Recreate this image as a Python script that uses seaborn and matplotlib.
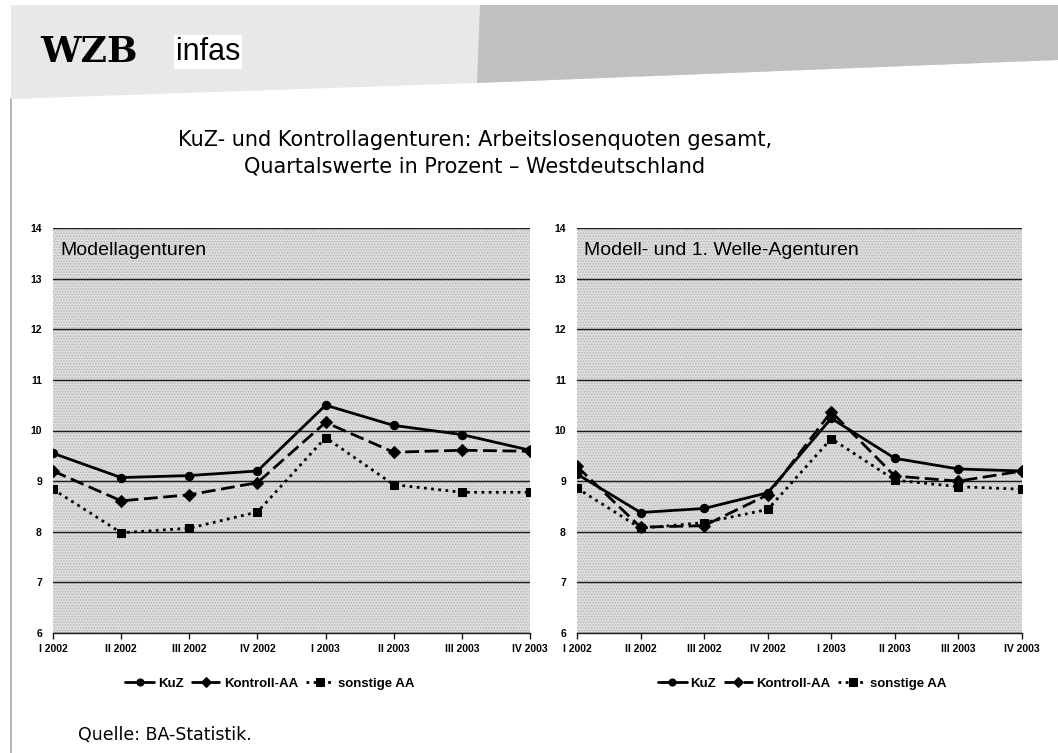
import numpy as np
import pandas as pd
import matplotlib
matplotlib.use("Agg")
import matplotlib.pyplot as plt
import seaborn as sns
from matplotlib.patches import Polygon, Rectangle

# ---------------- data ----------------
quarters = ["I 2002", "II 2002", "III 2002", "IV 2002",
            "I 2003", "II 2003", "III 2003", "IV 2003"]
series_names = ["KuZ", "Kontroll-AA", "sonstige AA"]

model_kuz = [9.55, 9.07, 9.11, 9.20, 10.50, 10.10, 9.92, 9.61]
model_kontroll = [9.20, 8.61, 8.73, 8.97, 10.16, 9.57, 9.61, 9.59]
model_sonstige = [8.84, 7.98, 8.07, 8.39, 9.86, 8.93, 8.78, 8.78]

welle_kuz = [9.14, 8.38, 8.46, 8.77, 10.24, 9.45, 9.24, 9.20]
welle_kontroll = [9.29, 8.09, 8.12, 8.73, 10.37, 9.10, 9.00, 9.20]
welle_sonstige = [8.86, 8.07, 8.18, 8.44, 9.84, 9.02, 8.89, 8.84]

panel_titles = ["Modellagenturen", "Modell- und 1. Welle-Agenturen"]
y_ticks = [6, 7, 8, 9, 10, 11, 12, 13, 14]

title_lines = ["KuZ- und Kontrollagenturen: Arbeitslosenquoten gesamt,",
               "Quartalswerte in Prozent – Westdeutschland"]
source_text = "Quelle: BA-Statistik."


def make_frame(kuz, kontroll, sonstige):
    rows = []
    for name, vals in zip(series_names, [kuz, kontroll, sonstige]):
        for i, v in enumerate(vals):
            rows.append({"x": i, "value": v, "series": name})
    return pd.DataFrame(rows)


frames = [make_frame(model_kuz, model_kontroll, model_sonstige),
          make_frame(welle_kuz, welle_kontroll, welle_sonstige)]

# ---------------- figure ----------------
sns.set_style("white")
plt.rcParams["font.family"] = ["DejaVu Sans"]
plt.rcParams["hatch.linewidth"] = 0.7
for key in ["text.color", "axes.labelcolor", "xtick.color", "ytick.color"]:
    plt.rcParams[key] = "black"

W, H = 1058, 753
fig = plt.figure(figsize=(W / 100, H / 100), dpi=100)

# background / header axes in pixel coordinates
bg = fig.add_axes([0, 0, 1, 1], zorder=-5)
bg.set_xlim(0, W)
bg.set_ylim(H, 0)
bg.axis("off")
bg.add_patch(Polygon([(11, 5), (W, 5), (W, 60), (477, 83), (11, 99)],
                     closed=True, facecolor="#e8e8e8", edgecolor="none"))
bg.add_patch(Polygon([(480, 5), (W, 5), (W, 60), (477, 83)],
                     closed=True, facecolor="#c0c0c0", edgecolor="none"))
bg.plot([11, 11], [99, H], color="#a8a8a8", lw=1.2)
bg.text(40, 52, "WZB", fontsize=26, fontweight="black",
        family=["DejaVu Serif"], va="center", ha="left", color="black")
bg.text(176, 52, "infas", fontsize=22, family=["Liberation Sans"],
        va="center", ha="left", color="black",
        bbox=dict(facecolor="white", edgecolor="none", pad=1))
bg.text(475, 140, title_lines[0], fontsize=15, ha="center", va="center", color="black")
bg.text(475, 166, title_lines[1], fontsize=15, ha="center", va="center", color="black")
bg.text(78, 735, source_text, fontsize=12.5, ha="left", va="center", color="black")

marker_map = {"KuZ": "o", "Kontroll-AA": "D", "sonstige AA": "s"}
dash_map = {"KuZ": "", "Kontroll-AA": (5, 2), "sonstige AA": (1, 1.6)}

tick_family = ["Liberation Sans", "DejaVu Sans"]

panels = [(53, 530), (577, 1022)]
legend_centers = [0.455, 0.506]
top_px, bot_px = 228, 633
for k, ((x0, x1), df) in enumerate(zip(panels, frames)):
    ax = fig.add_axes([x0 / W, 1 - bot_px / H, (x1 - x0) / W, (bot_px - top_px) / H])
    ax.add_patch(Rectangle((0, 0), 1, 1, transform=ax.transAxes, facecolor="#dedede",
                           edgecolor="#b4b4b4", hatch="......", lw=0, zorder=0))
    for y in y_ticks:
        ax.axhline(y, color="#1a1a1a", lw=1.0, zorder=1)
    sns.lineplot(data=df, x="x", y="value", style="series", hue="series",
                 palette=["black"] * 3, markers=marker_map, dashes=dash_map,
                 lw=2, markersize=6, markeredgecolor="black", ax=ax, zorder=3)
    handles, labels = ax.get_legend_handles_labels()
    ax.get_legend().remove()
    ax.set_xlim(0, 7)
    ax.set_ylim(6, 14)
    ax.set_xticks(range(len(quarters)))
    ax.set_xticklabels(quarters)
    ax.set_yticks(y_ticks)
    ax.set_yticklabels([str(t) for t in y_ticks])
    for lab in ax.get_xticklabels() + ax.get_yticklabels():
        lab.set_fontfamily(tick_family)
        lab.set_fontweight("bold")
        lab.set_fontsize(7.5)
        lab.set_color("black")
    ax.set_xlabel("")
    ax.set_ylabel("")
    for s in ["top", "right", "left"]:
        ax.spines[s].set_visible(False)
    ax.spines["bottom"].set_color("#1a1a1a")
    ax.spines["bottom"].set_linewidth(1.0)
    ax.tick_params(axis="x", direction="out", length=4, width=1, color="#1a1a1a", pad=4,
                   bottom=True)
    ax.tick_params(axis="y", length=0, pad=8, left=False)
    ax.text(0.015, 0.945, panel_titles[k], transform=ax.transAxes, fontsize=14,
            family=["Liberation Sans", "DejaVu Sans"], ha="left", va="center",
            color="black", zorder=5)
    leg = ax.legend(handles, labels, loc="center",
                    bbox_to_anchor=(legend_centers[k], -0.125),
                    ncol=3, frameon=False, handlelength=2.2, columnspacing=0.6,
                    handletextpad=0.25, markerscale=0.85,
                    prop=dict(family=["Liberation Sans", "DejaVu Sans"],
                              weight="bold", size=9.5))
    for t in leg.get_texts():
        t.set_color("black")

fig.savefig("out.png", dpi=100)
